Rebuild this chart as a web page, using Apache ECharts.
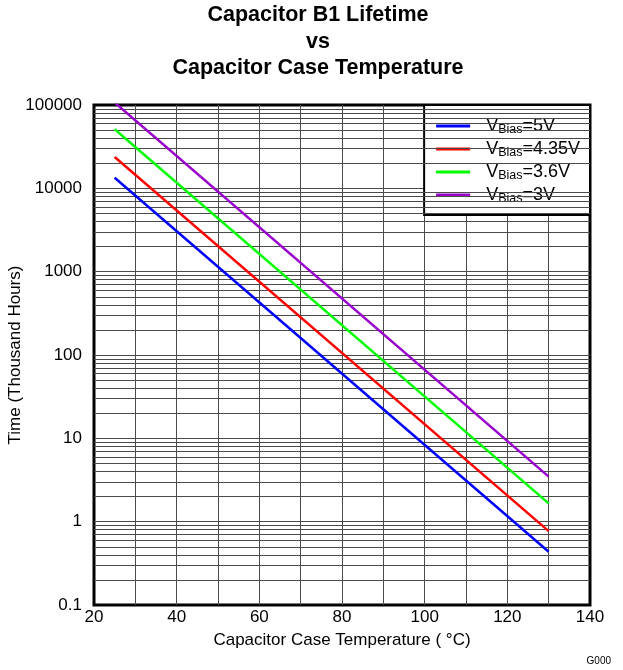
<!DOCTYPE html>
<html><head><meta charset="utf-8">
<script src="https://cdn.jsdelivr.net/npm/echarts@6/dist/echarts.min.js"></script>
<style>html,body{margin:0;padding:0;background:#fff}#c{width:623px;height:670px}</style>
</head><body><div id="c"></div>
<script>
// ---- data ----
const temps = [25, 130];
const seriesNames = ['5V', '4.35V', '3.6V', '3V'];
const bias5V = [13400, 0.436];
const bias435V = [23800, 0.77];
const bias36V = [51100, 1.66];
const bias3V = [107000, 3.47];
const xTickLabels = [20, 40, 60, 80, 100, 120, 140];
const yTickLabels = ['0.1', '1', '10', '100', '1000', '10000', '100000'];
const minorMultipliers = [2, 3, 4, 5, 6, 7, 8, 9];
const decadeStarts = [0.1, 1, 10, 100, 1000, 10000];

const FONT = "'Liberation Sans', Arial, sans-serif";
const colors = ['#0000FF', '#FF0000', '#00FF00', '#9900CC'];
const values = [bias5V, bias435V, bias36V, bias3V];

const minorLines = [];
decadeStarts.forEach(d => minorMultipliers.forEach(m => minorLines.push({ yAxis: +(d * m).toPrecision(3) })));

const series = seriesNames.map((n, i) => ({
  name: n,
  type: 'line',
  symbol: 'none',
  data: temps.map((t, k) => [t, values[i][k]]),
  lineStyle: { color: colors[i], width: 2.5 },
  itemStyle: { color: colors[i] },
  z: 5,
  animation: false
}));
series.unshift({
  name: 'minor',
  type: 'line',
  data: [],
  silent: true,
  animation: false,
  z: 1,
  markLine: {
    silent: true,
    symbol: 'none',
    animation: false,
    label: { show: false },
    lineStyle: { color: '#4a4a4a', width: 1, type: 'solid' },
    data: minorLines
  }
});

const chart = echarts.init(document.getElementById('c'), null, { renderer: 'canvas' });
chart.setOption({
  animation: false,
  backgroundColor: '#fff',
  title: {
    text: 'Capacitor B1 Lifetime\nvs\nCapacitor Case Temperature',
    left: 318, top: 2, textAlign: 'center', padding: 0,
    textStyle: { fontFamily: FONT, fontSize: 21.5, fontWeight: 'bold', color: '#000', lineHeight: 26.5 }
  },
  grid: { left: 94, right: 33, top: 105, bottom: 65, containLabel: false, outerBoundsMode: 'none',
    show: true, borderColor: '#000', borderWidth: 3, backgroundColor: '#fff' },
  legend: {
    data: seriesNames,
    orient: 'vertical',
    right: 33, top: 105,
    backgroundColor: '#fff',
    borderColor: '#000', borderWidth: 2,
    padding: [11, 10, 10, 12],
    itemGap: 3,
    icon: 'rect',
    itemWidth: 34, itemHeight: 3,
    formatter: n => '{v|V}{s|Bias}{v|=' + n + '}',
    textStyle: {
      padding: [0, 0, 0, 11],
      rich: {
        v: { fontFamily: FONT, fontSize: 18, color: '#000', lineHeight: 19 },
        s: { fontFamily: FONT, fontSize: 12.5, color: '#000', lineHeight: 12, padding: [7, 0, 0, 0] }
      }
    }
  },
  xAxis: {
    type: 'value', min: 20, max: 140, interval: 10,
    name: 'Capacitor Case Temperature ( °C)', nameLocation: 'middle', nameGap: 27,
    nameMoveOverlap: false,
    nameTextStyle: { fontFamily: FONT, fontSize: 17, color: '#000' },
    axisLine: { show: false },
    axisTick: { show: false },
    axisLabel: { fontFamily: FONT, fontSize: 17, color: '#000', margin: 4,
      formatter: v => xTickLabels.indexOf(v) >= 0 ? String(v) : '' },
    splitLine: { show: true, showMinLine: false, showMaxLine: false, lineStyle: { color: '#4a4a4a', width: 1 } }
  },
  yAxis: {
    type: 'log', logBase: 10, min: 0.1, max: 100000, interval: 1,
    name: 'Time (Thousand Hours)', nameLocation: 'middle', nameGap: 70,
    nameMoveOverlap: false,
    nameTextStyle: { fontFamily: FONT, fontSize: 17, color: '#000' },
    axisLine: { show: false },
    axisTick: { show: false },
    axisLabel: { fontFamily: FONT, fontSize: 17, color: '#000', margin: 12,
      formatter: v => yTickLabels[Math.round(Math.log10(v)) + 1] },
    splitLine: { show: true, showMinLine: false, showMaxLine: false, lineStyle: { color: '#4a4a4a', width: 1 } }
  },
  graphic: [{
    type: 'text', right: 12, bottom: 4,
    style: { text: 'G000', fontFamily: FONT, fontSize: 10, fill: '#000' }
  }],
  series: series
});
</script></body></html>
